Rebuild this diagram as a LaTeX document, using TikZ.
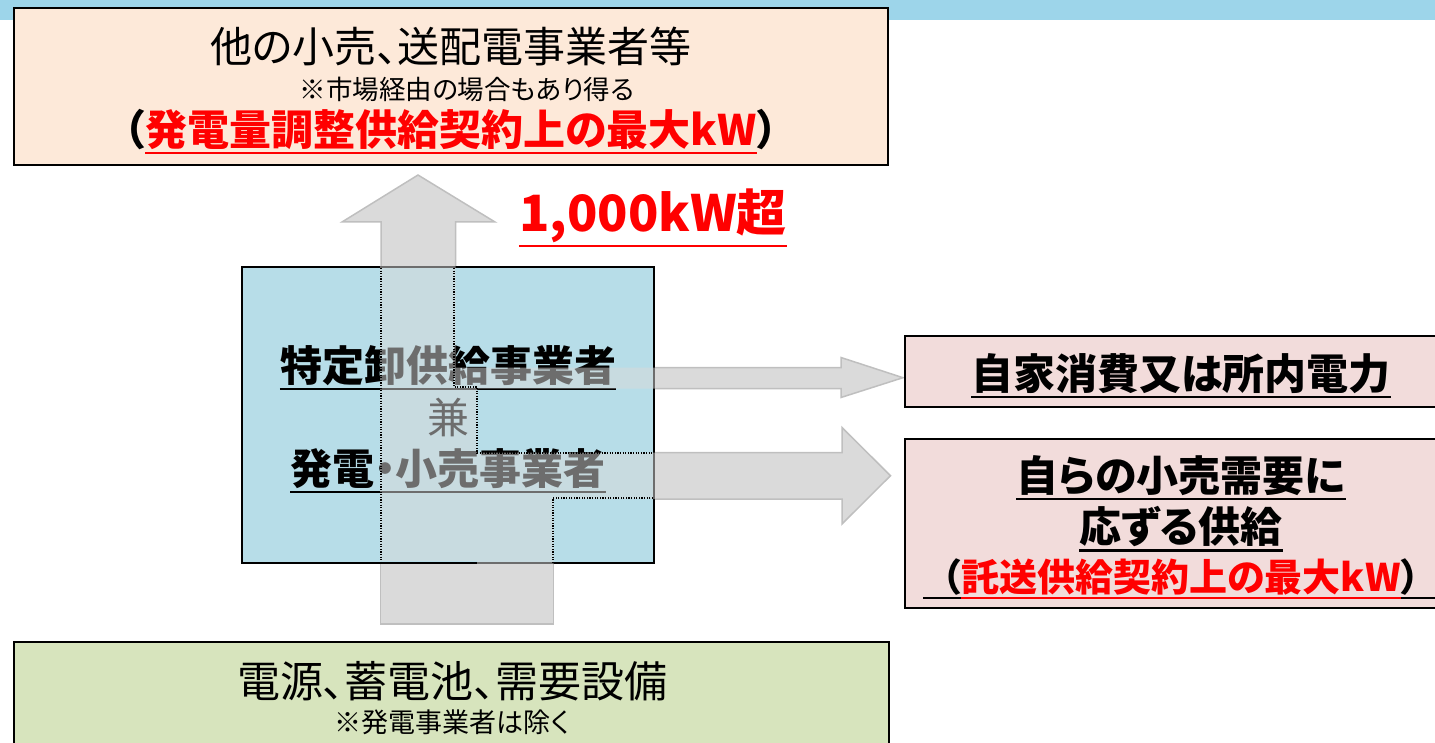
\documentclass[tikz,border=0pt]{standalone}
\usepackage{fontspec}
\setmainfont{Noto Sans CJK JP}[RawFeature=+palt]
\usetikzlibrary{calc}
\definecolor{band}{HTML}{9DD5EA}
\definecolor{peach}{HTML}{FDE9D9}
\definecolor{bluebox}{HTML}{B7DDE8}
\definecolor{pinkbox}{HTML}{F2DCDB}
\definecolor{greenbox}{HTML}{D7E4BD}
\definecolor{arrowfill}{HTML}{DADADA}
\definecolor{arrowedge}{HTML}{BFBFBF}
\definecolor{redtxt}{HTML}{FF0000}
\begin{document}
\begin{tikzpicture}[x=1pt,y=-1pt,
  box/.style={draw=black, line width=2.4pt, inner sep=0pt},
  reg/.style={inner sep=0pt, font=\fontsize{#1pt}{#1pt}\selectfont},
  bld/.style={inner sep=0pt, font=\fontsize{#1pt}{#1pt}\selectfont\bfseries},
  uline/.style={line width=2.2pt},
  blockarrow/.style={fill=arrowfill, draw=arrowedge, line width=1.5pt, line join=miter},
  overlay/.style={fill=arrowfill, fill opacity=0.5},
  dots/.style={draw=black, line width=1.4pt, dash pattern=on 1.2pt off 1.4pt}]
\path[use as bounding box, clip] (0,0) rectangle (1435,743);
\fill[band] (0,0) rectangle (1435,20);

% block arrows (opaque parts outside the central box)
\draw[blockarrow] (381,275) -- (381,222) -- (342,222) -- (418,175) -- (495,222) -- (455.5,222) -- (455.5,275) -- cycle;
\draw[blockarrow] (380.5,555) rectangle (553.5,624);
\draw[blockarrow] (645,367.5) -- (841,367.5) -- (841,357.5) -- (903,377.7) -- (841,397.5) -- (841,388.5) -- (645,388.5) -- cycle;
\draw[blockarrow] (645,452.5) -- (842,452.5) -- (842,427.5) -- (890.5,475.7) -- (842,524) -- (842,499) -- (645,499) -- cycle;

% boxes
\node[box, fill=peach, minimum width=874pt, minimum height=157pt] (others) at (451,86.5) {};
\node[box, fill=bluebox, minimum width=412pt, minimum height=296pt] (center) at (448,415) {};
\node[box, fill=pinkbox, minimum width=552pt, minimum height=71pt] (self) at (1181,371.5) {};
\node[box, fill=pinkbox, minimum width=552pt, minimum height=169pt] (retail) at (1181,523.5) {};
\node[box, fill=greenbox, minimum width=875pt, minimum height=118pt] (source) at (451.5,701) {};

% top box texts
\node[reg=42] (o1) at (451,47) {他の小売、送配電事業者等};
\node[reg=26.5] (o2) at (467,89) {※市場経由の場合もあり得る};
\node[bld=42, text=redtxt] (o3) at (451,130) {発電量調整供給契約上の最大kW};
\node[bld=42, anchor=base east] (o3l) at (o3.base west) {（};
\node[bld=42, anchor=base west] (o3r) at (o3.base east) {）};
\draw[uline, redtxt] ([yshift=-3pt]o3.south west) -- ([yshift=-3pt]o3.south east);

% threshold
\node[bld=50, text=redtxt] (thr) at (653,216) {1,000kW超};
\draw[uline, redtxt] ([yshift=-3pt]thr.south west) -- ([yshift=-3pt]thr.south east);

% central box texts
\node[bld=42] (c1) at (448,366) {特定卸供給事業者};
\draw[uline] ([yshift=-3pt]c1.south west) -- ([yshift=-3pt]c1.south east);
\node[reg=42] (c2) at (448,417) {兼};
\node[bld=42] (c3) at (448,469) {発電・小売事業者};
\draw[uline] ([yshift=-3pt]c3.south west) -- ([yshift=-3pt]c3.south east);

% right boxes texts
\node[bld=42] (s1) at (1181,374) {自家消費又は所内電力};
\draw[uline] ([yshift=-3pt]s1.south west) -- ([yshift=-3pt]s1.south east);
\node[bld=42] (r1) at (1181,476) {自らの小売需要に};
\draw[uline] ([yshift=-3pt]r1.south west) -- ([yshift=-3pt]r1.south east);
\node[bld=42] (r2) at (1181,527) {応ずる供給};
\draw[uline] ([yshift=-3pt]r2.south west) -- ([yshift=-3pt]r2.south east);
\node[bld=38, text=redtxt] (r3) at (1181,577) {託送供給契約上の最大kW};
\node[bld=38, anchor=base east] (r3l) at (r3.base west) {（};
\node[bld=38, anchor=base west] (r3r) at (r3.base east) {）};
\draw[uline] ([shift={(-38pt,-3pt)}]r3.south west) -- ([shift={(80pt,-3pt)}]r3.south east);
\draw[uline, redtxt] ([yshift=-3pt]r3.south west) -- ([yshift=-3pt]r3.south east);

% bottom box texts
\node[reg=43] (g1) at (452,681) {電源、蓄電池、需要設備};
\node[reg=27] (g2) at (452,722) {※発電事業者は除く};

% translucent part of the arrows over the central box
\path[overlay] (380,266) -- (455.5,266) -- (455.5,367.5) -- (655.5,367.5) -- (655.5,388.5) -- (477,388.5) -- (477,452.5) -- (655.5,452.5) -- (655.5,499) -- (553.5,499) -- (553.5,564) -- (477,564) -- (477,561) -- (380,561) -- cycle;
\draw[dots] (381,268) -- (381,562);
\draw[dots] (454,268) -- (454,387) -- (477,387) -- (477,453) -- (653,453);
\draw[dots] (653,498) -- (553,498) -- (553,562);
\end{tikzpicture}
\end{document}
